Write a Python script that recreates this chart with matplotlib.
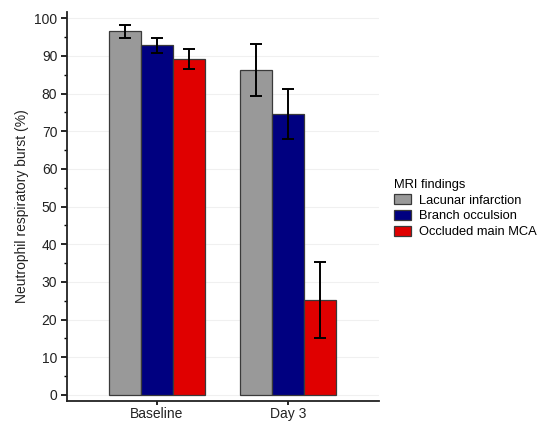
import numpy as np
import matplotlib
matplotlib.use("Agg")
import matplotlib.pyplot as plt
from matplotlib.ticker import MultipleLocator

plt.rcParams["font.family"] = ["Liberation Sans", "DejaVu Sans"]

timepoints = ["Baseline", "Day 3"]
groups = ["Lacunar infarction", "Branch occulsion", "Occluded main MCA"]
means = {
    "Lacunar infarction": [96.5, 86.2],
    "Branch occulsion": [92.8, 74.6],
    "Occluded main MCA": [89.1, 25.2],
}
errors = {
    "Lacunar infarction": [1.8, 6.9],
    "Branch occulsion": [2.0, 6.6],
    "Occluded main MCA": [2.7, 10.0],
}
colors = ["#999999", "#000080", "#e00000"]
text_color = "#222222"
fs = 10

fig = plt.figure(figsize=(5.49, 4.21), dpi=100)
ax = fig.add_axes([0.122, 0.0475, 0.568, 0.9235])

x = np.arange(len(timepoints))
width = 0.244
for i, (name, color) in enumerate(zip(groups, colors)):
    pos = x + (i - 1) * width
    ax.bar(pos, means[name], width, color=color, edgecolor="#3a3a3a",
           linewidth=0.9, label=name, zorder=2)
    ax.errorbar(pos, means[name], yerr=errors[name], fmt="none",
                ecolor="black", elinewidth=1.4, capsize=4.5, capthick=1.4,
                zorder=3)

ax.set_xlim(-0.687, 1.695)
ax.set_ylim(-1.6, 101.6)
ax.set_xticks(x)
ax.set_xticklabels(timepoints, fontsize=fs, color=text_color)
ax.yaxis.set_major_locator(MultipleLocator(10))
ax.yaxis.set_minor_locator(MultipleLocator(5))
ax.tick_params(axis="y", which="major", length=4, width=1.2, labelsize=fs,
               labelcolor=text_color, pad=3)
ax.tick_params(axis="y", which="minor", length=2.5, width=1.0)
ax.tick_params(axis="x", which="major", length=3, width=1.2, pad=1.5)
ax.grid(axis="y", color="#f0f0f0", linewidth=0.8, zorder=0)

for side in ("top", "right"):
    ax.spines[side].set_visible(False)
for side in ("left", "bottom"):
    ax.spines[side].set_linewidth(1.3)
    ax.spines[side].set_color("#222222")

ax.set_ylabel("Neutrophil respiratory burst (%)", fontsize=fs,
              color=text_color, labelpad=4)

leg = ax.legend(title="MRI findings", loc="center left",
                bbox_to_anchor=(1.05, 0.495), frameon=False, fontsize=9.3,
                title_fontsize=9.3, handlelength=1.25, handleheight=0.85,
                handletextpad=0.65, labelspacing=0.25, borderaxespad=0.0,
                borderpad=0.0)
leg._legend_box.align = "left"

fig.savefig("out.png", dpi=100)
